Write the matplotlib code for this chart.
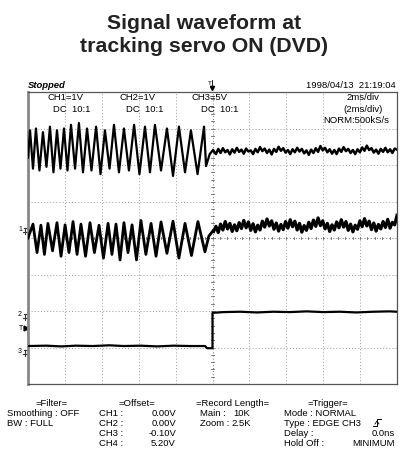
import numpy as np
import matplotlib
matplotlib.use('Agg')
import matplotlib.pyplot as plt
from matplotlib.lines import Line2D

plt.rcParams['font.family'] = ['Liberation Sans', 'DejaVu Sans']

W, H = 409, 459

# time axis in ms (2 ms/div, trigger at 0), level in divisions (8 div high)
# CH1 before servo ON: alternating peaks / troughs
ch1_pre_t = [-10.0, -9.89, -9.73, -9.57, -9.38, -9.19, -9.00, -8.81, -8.62, -8.43,
             -8.24, -8.05, -7.86, -7.67, -7.45, -7.24, -7.02, -6.80, -6.56, -6.31,
             -6.07, -5.83, -5.58, -5.34, -5.07, -4.80, -4.53, -4.25, -3.96, -3.66,
             -3.39, -3.12, -2.79, -2.47, -2.14, -1.82, -1.49, -1.17, -0.81, -0.46,
             -0.35, -0.15, 0.03]
ch1_pre_v = [2.20, 2.95, 1.90, 3.00, 1.85, 2.90, 1.95, 3.05, 1.80, 2.95,
             1.90, 3.00, 1.85, 3.10, 1.90, 3.15, 1.80, 3.00, 1.85, 3.05,
             1.75, 2.95, 1.90, 3.10, 1.80, 3.00, 1.85, 3.10, 1.75, 3.05,
             1.80, 3.10, 1.85, 3.00, 1.70, 3.05, 1.80, 2.95, 1.75, 3.05,
             1.97, 2.30, 2.41]
# CH1 after servo ON (noisy flat)
ch1_post_v = [2.38, 2.30, 2.44, 2.33, 2.46, 2.35, 2.41, 2.29, 2.43, 2.34,
              2.47, 2.36, 2.42, 2.31, 2.45, 2.37, 2.40, 2.30, 2.44, 2.35,
              2.49, 2.38, 2.45, 2.33, 2.42, 2.29, 2.44, 2.36, 2.50, 2.39,
              2.46, 2.34, 2.41, 2.30, 2.43, 2.35, 2.47, 2.37, 2.44, 2.32,
              2.40, 2.28, 2.42, 2.33, 2.46, 2.36, 2.52, 2.40, 2.47, 2.35,
              2.43, 2.31, 2.41, 2.30, 2.45, 2.36, 2.49, 2.38, 2.44, 2.33,
              2.41, 2.30, 2.43, 2.35, 2.48, 2.39, 2.53, 2.41, 2.46, 2.34,
              2.42, 2.31, 2.44, 2.36, 2.47, 2.35, 2.43, 2.33, 2.45, 2.42]

# CH2 (tracking error)
ch2_pre_t = [-10.0, -9.73, -9.51, -9.30, -9.11, -8.92, -8.67, -8.43, -8.21, -7.99,
             -7.78, -7.56, -7.34, -7.13, -6.88, -6.64, -6.40, -6.15, -5.91, -5.66,
             -5.45, -5.23, -5.01, -4.80, -4.58, -4.36, -4.12, -3.88, -3.61, -3.33,
             -3.06, -2.79, -2.47, -2.14, -1.82, -1.49, -1.14, -0.79, -0.41, -0.20,
             0.03]
ch2_pre_v = [0.00, 0.38, -0.40, 0.35, -0.45, 0.40, -0.35, 0.42, -0.50, 0.36,
             -0.40, 0.45, -0.45, 0.38, -0.50, 0.42, -0.40, 0.35, -0.55, 0.40,
             -0.45, 0.38, -0.60, 0.42, -0.40, 0.36, -0.60, 0.48, -0.45, 0.40,
             -0.50, 0.44, -0.42, 0.46, -0.55, 0.40, -0.48, 0.45, -0.38, 0.05,
             0.20]
ch2_post_v = [0.18, 0.32, 0.15, 0.38, 0.22, 0.45, 0.25, 0.40, 0.18, 0.36,
              0.20, 0.42, 0.26, 0.48, 0.28, 0.44, 0.21, 0.39, 0.17, 0.35,
              0.22, 0.46, 0.30, 0.52, 0.33, 0.47, 0.24, 0.41, 0.19, 0.37,
              0.23, 0.45, 0.27, 0.50, 0.31, 0.46, 0.22, 0.40, 0.16, 0.34,
              0.21, 0.43, 0.26, 0.49, 0.32, 0.55, 0.34, 0.47, 0.25, 0.40,
              0.18, 0.36, 0.22, 0.44, 0.28, 0.50, 0.30, 0.45, 0.21, 0.38,
              0.17, 0.35, 0.24, 0.47, 0.31, 0.53, 0.33, 0.46, 0.23, 0.41,
              0.19, 0.37, 0.25, 0.45, 0.29, 0.51, 0.27, 0.43, 0.36, 0.62]

# CH3 (servo ON step)
ch3_t = [-10.0, -9.0, -8.2, -7.4, -6.5, -5.6, -4.8, -3.9, -3.0, -2.1, -1.2, -0.4,
         -0.3, 0.0, 0.0, 0.6, 1.5, 2.4, 3.3, 4.2, 5.1, 6.0, 6.9, 7.8, 8.7, 9.6, 10.0]
ch3_v = [-2.96, -2.95, -2.97, -2.95, -2.96, -2.94, -2.96, -2.95, -2.97, -2.95, -2.96,
         -2.96, -3.02, -3.02, -2.05, -2.03, -2.02, -2.04, -2.02, -2.03, -2.01, -2.03,
         -2.02, -2.04, -2.02, -2.01, -2.02]

# ground markers on the left edge (label, level in div)
markers = [('1', 0.27), ('2', -2.08), ('3', -3.07)]
trig_level = -2.47


def fx(px):
    return px / W


def fy(py):
    return 1 - py / H


fig = plt.figure(figsize=(W / 100, H / 100), dpi=100)
ax = fig.add_axes([28 / W, 1 - 384 / H, 369 / W, 292 / H])
ax.set_xlim(-10, 10)
ax.set_ylim(-4, 4)
ax.set_xticks([])
ax.set_yticks([])
for s in ['top', 'right', 'bottom']:
    ax.spines[s].set_color('#555555')
    ax.spines[s].set_linewidth(0.9)
ax.spines['left'].set_color('#888888')
ax.spines['left'].set_linewidth(2)

# grid
dot = (0, (1, 2.2))
for x in range(-8, 10, 2):
    if x != 0:
        ax.axvline(x, color='#9a9a9a', lw=0.7, ls=dot, zorder=1)
for y in range(-3, 4):
    if y != 0:
        ax.axhline(y, color='#9a9a9a', lw=0.7, ls=dot, zorder=1)
# center crosshair with sub-division ticks
ax.axvline(0, color='#777777', lw=0.7, ls=dot, zorder=1)
ax.axhline(0, color='#777777', lw=0.7, ls=dot, zorder=1)
for k in range(-40, 41):
    yy = k * 0.2
    if -4 < yy < 4:
        ax.plot([-0.08, 0.08], [yy, yy], color='#666666', lw=0.6, zorder=1)
for k in range(-25, 26):
    xx = k * 0.4
    if -10 < xx < 10:
        ax.plot([xx, xx], [-0.04, 0.04], color='#666666', lw=0.6, zorder=1)

# traces
t_post = np.linspace(0.06, 10.0, len(ch1_post_v))
ax.plot(ch1_pre_t, ch1_pre_v, color='black', lw=1.6, zorder=3)
ax.plot(t_post, ch1_post_v, color='black', lw=1.8, zorder=3)
ax.plot(ch2_pre_t, ch2_pre_v, color='black', lw=2.0, zorder=3)
ax.plot(t_post, ch2_post_v, color='black', lw=2.3, zorder=3)
ax.plot(ch3_t, ch3_v, color='black', lw=1.6, zorder=3)

# left-side channel markers
dxp = 20 / 369
dyp = 8 / 292
for lab, lv in markers:
    ax.plot([-10 - 4 * dxp, -10], [lv, lv], color='#333333', lw=0.8, clip_on=False)
    ax.plot([-10 - 3 * dxp, -10 - 3 * dxp], [lv, lv - 6 * dyp], color='#333333', lw=0.8, clip_on=False)
    ax.plot([-10 - 5 * dxp, -10 - 1 * dxp], [lv - 4 * dyp, lv - 4 * dyp], color='#333333', lw=0.8, clip_on=False)
    ax.text(-10 - 6 * dxp, lv - 1 * dyp, lab, fontsize=5, ha='right', va='center', clip_on=False)
ax.text(-10 - 5 * dxp, trig_level, 'T', fontsize=5, ha='right', va='center', clip_on=False)
ax.plot([-10 - 2 * dxp], [trig_level], marker='>', ms=3.5, color='black', clip_on=False)

# title
fig.text(fx(204.5), fy(29), 'Signal waveform at', fontsize=15.3, fontweight='bold',
         ha='center', va='baseline', color='#222222')
fig.text(fx(204.5), fy(51.5), 'tracking servo ON (DVD)', fontsize=15.3, fontweight='bold',
         ha='center', va='baseline', color='#222222')

fs = 6.8
# header row
fig.text(fx(28), fy(88), 'Stopped', fontsize=fs, style='italic', fontweight='bold',
         ha='left', va='baseline')
fig.text(fx(396), fy(88), '1998/04/13  21:19:04', fontsize=fs, ha='right', va='baseline')
fig.text(fx(210), fy(85), 'T', fontsize=4.5, ha='center', va='baseline')
fig.add_artist(Line2D([fx(212), fx(212)], [fy(80), fy(88)], transform=fig.transFigure,
                      color='black', lw=0.6))
fig.add_artist(Line2D([fx(212)], [fy(88)], transform=fig.transFigure, marker='v', ms=3,
                      color='black'))

# in-screen labels
fig.text(fx(47), fy(100), 'CH1=1V', fontsize=fs, ha='left', va='baseline')
fig.text(fx(53), fy(111.5), 'DC  10:1', fontsize=fs, ha='left', va='baseline')
fig.text(fx(119), fy(100), 'CH2=1V', fontsize=fs, ha='left', va='baseline')
fig.text(fx(126), fy(111.5), 'DC  10:1', fontsize=fs, ha='left', va='baseline')
fig.text(fx(191), fy(100), 'CH3=5V', fontsize=fs, ha='left', va='baseline')
fig.text(fx(201), fy(111.5), 'DC  10:1', fontsize=fs, ha='left', va='baseline')
fig.text(fx(379), fy(100), '2ms/div', fontsize=fs, ha='right', va='baseline')
fig.text(fx(383), fy(111.5), '(2ms/div)', fontsize=fs, ha='right', va='baseline')
fig.text(fx(389), fy(123), 'NORM:500kS/s', fontsize=fs, ha='right', va='baseline')

# bottom settings panel
fig.text(fx(52), fy(406), '=Filter=', fontsize=fs, ha='center', va='baseline')
fig.text(fx(7), fy(416), 'Smoothing : OFF', fontsize=fs, ha='left', va='baseline')
fig.text(fx(7), fy(426), 'BW : FULL', fontsize=fs, ha='left', va='baseline')

fig.text(fx(137), fy(406), '=Offset=', fontsize=fs, ha='center', va='baseline')
offset_ch = ['CH1 :', 'CH2 :', 'CH3 :', 'CH4 :']
offset_val = ['0.00V', '0.00V', '-0.10V', '5.20V']
for i, (c, v) in enumerate(zip(offset_ch, offset_val)):
    fig.text(fx(99), fy(416 + 10 * i), c, fontsize=fs, ha='left', va='baseline')
    fig.text(fx(176), fy(416 + 10 * i), v, fontsize=fs, ha='right', va='baseline')

fig.text(fx(233), fy(406), '=Record Length=', fontsize=fs, ha='center', va='baseline')
fig.text(fx(200), fy(416), 'Main :', fontsize=fs, ha='left', va='baseline')
fig.text(fx(250), fy(416), '10K', fontsize=fs, ha='right', va='baseline')
fig.text(fx(200), fy(426), 'Zoom :', fontsize=fs, ha='left', va='baseline')
fig.text(fx(251), fy(426), '2.5K', fontsize=fs, ha='right', va='baseline')

fig.text(fx(328), fy(406), '=Trigger=', fontsize=fs, ha='center', va='baseline')
fig.text(fx(284), fy(416), 'Mode : NORMAL', fontsize=fs, ha='left', va='baseline')
fig.text(fx(284), fy(426), 'Type : EDGE CH3', fontsize=fs, ha='left', va='baseline')
fig.text(fx(284), fy(436), 'Delay :', fontsize=fs, ha='left', va='baseline')
fig.text(fx(395), fy(436), '0.0ns', fontsize=fs, ha='right', va='baseline')
fig.text(fx(284), fy(446), 'Hold Off :', fontsize=fs, ha='left', va='baseline')
fig.text(fx(395), fy(446), 'MINIMUM', fontsize=fs, ha='right', va='baseline')
# rising-edge icon
fig.add_artist(Line2D([fx(373), fx(377), fx(377), fx(381)], [fy(426), fy(426), fy(419), fy(419)],
                      transform=fig.transFigure, color='black', lw=0.7))
fig.add_artist(Line2D([fx(375), fx(377), fx(379)], [fy(424), fy(421), fy(424)],
                      transform=fig.transFigure, color='black', lw=0.6))

fig.savefig('out.png', dpi=100, facecolor='white')
